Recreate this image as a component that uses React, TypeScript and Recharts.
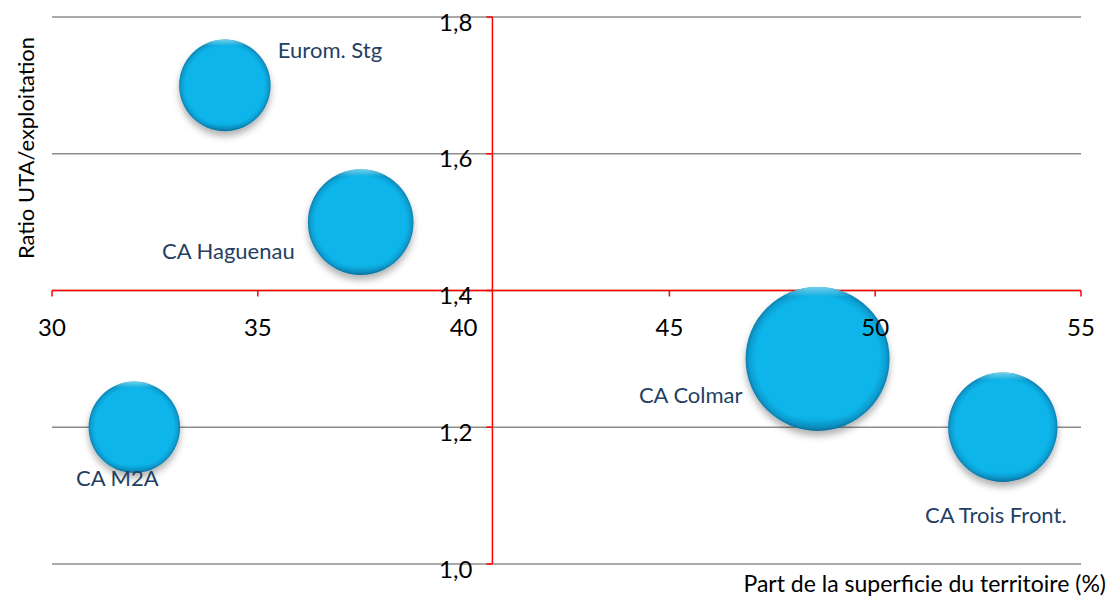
import { CartesianGrid, ReferenceLine, Scatter, ScatterChart, XAxis, YAxis, ZAxis } from "recharts";

// bubble data
const names = ["Eurom. Stg", "CA Haguenau", "CA M2A", "CA Colmar", "CA Trois Front."];
const surfaceShare = [34.2, 37.5, 32.0, 48.6, 53.1];
const utaRatio = [1.7, 1.5, 1.2, 1.3, 1.2];
const bubbleSize = [21, 28, 21, 52, 30];

const xTicks = [30, 35, 40, 45, 50, 55];
const yTicks = [1.0, 1.2, 1.4, 1.6, 1.8];

const rows = names.map((name, i) => ({ name, x: surfaceShare[i], y: utaRatio[i], z: bubbleSize[i] }));

// chart geometry
const W = 1113;
const H = 597;
const M = { top: 17, right: 32, bottom: 33, left: 52 };
const PLOT_W = W - M.left - M.right;
const PLOT_H = H - M.top - M.bottom;
const X_CROSS = 40.7; // value where the vertical axis crosses
const Y_CROSS = 1.4;
const crossY = M.top + ((1.8 - Y_CROSS) / 0.8) * PLOT_H;
const crossX = M.left + ((X_CROSS - 30) / 25) * PLOT_W;

const FONT = "Lato, 'Open Sans', sans-serif";
const RED = "#FF0000";
const NAVY = "#243F63";

// where each bubble label sits relative to its bubble
const labelPlacement: Record<string, { dx: number; dy: number; anchor: "start" | "middle" | "end" }> = {
  "Eurom. Stg": { dx: 53, dy: -36, anchor: "start" },
  "CA Haguenau": { dx: -66, dy: 28, anchor: "end" },
  "CA M2A": { dx: -17, dy: 50, anchor: "middle" },
  "CA Colmar": { dx: -75, dy: 36, anchor: "end" },
  "CA Trois Front.": { dx: -7, dy: 87, anchor: "middle" },
};

function Bubble(props: any) {
  const { cx, cy, width, payload } = props;
  const r = width / 2;
  const p = labelPlacement[payload.name];
  return (
    <g>
      <circle cx={cx} cy={cy} r={r} fill="url(#bubbleFill)" filter="url(#bubbleShadow)" />
      <circle cx={cx} cy={cy} r={r} fill="url(#bubbleShine)" />
      <text
        x={cx + p.dx}
        y={cy + p.dy}
        textAnchor={p.anchor}
        dominantBaseline="central"
        fontFamily={FONT}
        fontSize={22}
        fill={NAVY}
      >
        {payload.name}
      </text>
    </g>
  );
}

function XTick(props: any) {
  const { x, payload } = props;
  return (
    <g>
      <line x1={x} x2={x} y1={crossY} y2={crossY + 6} stroke={RED} strokeWidth={1.5} />
      <text x={x} y={crossY + 36} textAnchor="middle" dominantBaseline="central" fontFamily={FONT} fontSize={24} fill="#000">
        {payload.value}
      </text>
    </g>
  );
}

function YTick(props: any) {
  const { y, payload } = props;
  return (
    <g>
      <line x1={crossX - 6} x2={crossX} y1={y} y2={y} stroke={RED} strokeWidth={1.5} />
      <text x={crossX - 20} y={y + 4} textAnchor="end" dominantBaseline="central" fontFamily={FONT} fontSize={24} fill="#000">
        {Number(payload.value).toFixed(1).replace(".", ",")}
      </text>
    </g>
  );
}

export default function App() {
  return (
    <div style={{ position: "absolute", left: 0, top: 0, width: W, height: H, background: "#fff" }}>
      <ScatterChart width={W} height={H} margin={{ top: M.top, right: M.right, bottom: 0, left: 0 }}>
        <defs>
          <radialGradient id="bubbleFill" cx="50%" cy="50%" r="50%">
            <stop offset="0%" stopColor="#0AB5EA" />
            <stop offset="86%" stopColor="#0AB5EA" />
            <stop offset="95%" stopColor="#0A9ED2" />
            <stop offset="100%" stopColor="#0A7FAE" />
          </radialGradient>
          <linearGradient id="bubbleShine" x1="0" y1="0" x2="0" y2="1">
            <stop offset="0%" stopColor="#8BE9FF" stopOpacity={0.8} />
            <stop offset="7%" stopColor="#8BE9FF" stopOpacity={0} />
            <stop offset="90%" stopColor="#004466" stopOpacity={0} />
            <stop offset="100%" stopColor="#004466" stopOpacity={0.25} />
          </linearGradient>
          <filter id="bubbleShadow" x="-30%" y="-30%" width="160%" height="170%">
            <feDropShadow dx={0} dy={5} stdDeviation={3.5} floodColor="#000" floodOpacity={0.3} />
          </filter>
        </defs>
        <CartesianGrid vertical={false} stroke="#8C8C8C" strokeWidth={1.5} />
        <XAxis
          type="number"
          dataKey="x"
          domain={[30, 55]}
          ticks={xTicks}
          axisLine={false}
          tickLine={false}
          tick={<XTick />}
          height={M.bottom}
          allowDataOverflow
        />
        <YAxis
          type="number"
          dataKey="y"
          domain={[1.0, 1.8]}
          ticks={yTicks}
          axisLine={false}
          tickLine={false}
          tick={<YTick />}
          width={M.left}
          allowDataOverflow
        />
        <ZAxis type="number" dataKey="z" domain={[0, 52]} range={[0, Math.PI * 72 * 72]} />
        <ReferenceLine y={Y_CROSS} stroke={RED} strokeWidth={1.5} />
        <ReferenceLine x={X_CROSS} stroke={RED} strokeWidth={1.5} />
        <Scatter data={rows} shape={<Bubble />} isAnimationActive={false} />
      </ScatterChart>
      <svg width={W} height={H} style={{ position: "absolute", left: 0, top: 0, pointerEvents: "none" }}>
        <text
          transform={`translate(25, 148) rotate(-90)`}
          textAnchor="middle"
          dominantBaseline="central"
          fontFamily={FONT}
          fontSize={22}
          fill="#000"
        >
          Ratio UTA/exploitation
        </text>
        <text x={1106} y={583} textAnchor="end" dominantBaseline="central" fontFamily={FONT} fontSize={23} fill="#000">
          Part de la superficie du territoire (%)
        </text>
      </svg>
    </div>
  );
}
